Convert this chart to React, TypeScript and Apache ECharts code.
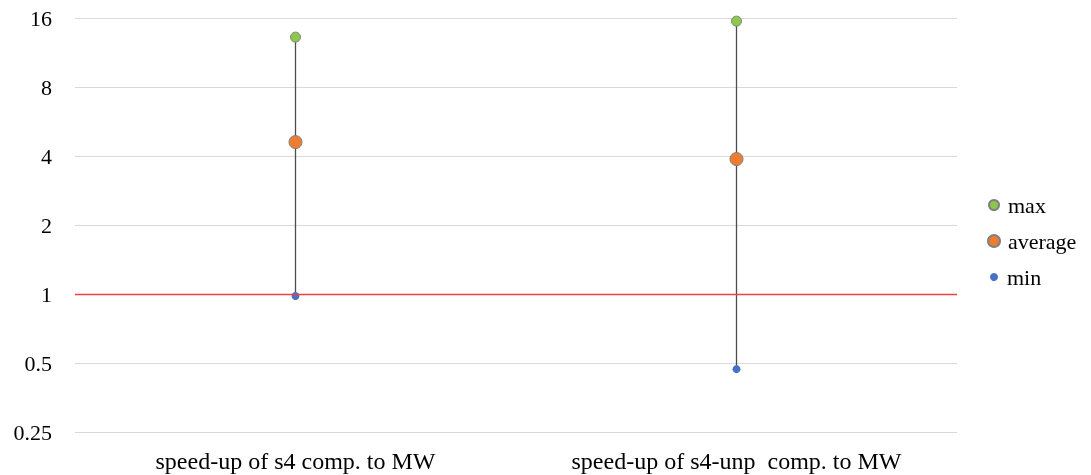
import React, { useEffect, useRef } from "react";
import * as echarts from "echarts";

const categories = ["speed-up of s4 comp. to MW", "speed-up of s4-unp  comp. to MW"];
const maxValues = [13.2, 15.5];
const avgValues = [4.6, 3.88];
const minValues = [0.98, 0.47];
const yTicks = [0.25, 0.5, 1, 2, 4, 8, 16];
const referenceValue = 1;

const FONT = "'Liberation Serif', 'Times New Roman', serif";

export default function App() {
  const ref = useRef<HTMLDivElement>(null);
  useEffect(() => {
    if (!ref.current) return;
    const chart = echarts.init(ref.current, undefined, { renderer: "svg" });
    const rangeData = categories.map((_, i) => [i, minValues[i], maxValues[i]]);
    const legendBase = {
      orient: "vertical" as const,
      icon: "circle",
      padding: 0,
      selectedMode: false,
    };
    const legendText = (pad: number) => ({
      fontFamily: FONT,
      fontSize: 22,
      color: "#000",
      lineHeight: 24,
      padding: [0, 0, 0, pad],
    });
    chart.setOption({
      animation: false,
      grid: { left: 75, right: 134, top: 18, bottom: 43 },
      legend: [
        { ...legendBase, left: 988, top: 193, itemWidth: 10, itemHeight: 10, textStyle: legendText(4), data: ["max"] },
        { ...legendBase, left: 987, top: 229, itemWidth: 12, itemHeight: 12, textStyle: legendText(3), data: ["average"] },
        { ...legendBase, left: 990, top: 265, itemWidth: 8, itemHeight: 8, textStyle: legendText(4), data: ["min"] },
      ],
      xAxis: {
        type: "category",
        data: categories,
        boundaryGap: true,
        axisLine: { show: false },
        axisTick: { show: false },
        axisLabel: { fontFamily: FONT, fontSize: 24, color: "#000", margin: 17 },
      },
      yAxis: {
        type: "log",
        logBase: 2,
        min: yTicks[0],
        max: yTicks[yTicks.length - 1],
        axisLine: { show: false },
        axisTick: { show: false },
        splitLine: { lineStyle: { color: "#d9d9d9", width: 1 } },
        axisLabel: {
          fontFamily: FONT,
          fontSize: 22,
          color: "#000",
          margin: 23,
          formatter: (v: number) => String(Math.round(v * 100) / 100),
        },
      },
      series: [
        {
          type: "custom",
          name: "range",
          data: rangeData,
          z: 2,
          renderItem: (params: any, api: any) => {
            const idx = api.value(0);
            const p1 = api.coord([idx, api.value(1)]);
            const p2 = api.coord([idx, api.value(2)]);
            return {
              type: "line",
              shape: { x1: p1[0], y1: p1[1], x2: p2[0], y2: p2[1] },
              style: { stroke: "#4d4d4d", lineWidth: 1.3 },
            };
          },
          markLine: {
            silent: true,
            symbol: "none",
            label: { show: false },
            lineStyle: { color: "#f04040", width: 1.3, type: "solid" },
            data: [{ yAxis: referenceValue }],
          },
        },
        {
          type: "scatter",
          name: "max",
          data: maxValues,
          symbolSize: 10,
          z: 3,
          itemStyle: { color: "#8cc84b", borderColor: "#808080", borderWidth: 1, opacity: 1 },
        },
        {
          type: "scatter",
          name: "average",
          data: avgValues,
          symbolSize: 13,
          z: 3,
          itemStyle: { color: "#ed7d31", borderColor: "#808080", borderWidth: 1, opacity: 1 },
        },
        {
          type: "scatter",
          name: "min",
          data: minValues,
          symbolSize: 8,
          z: 3,
          itemStyle: { color: "#4472c4", opacity: 1 },
        },
      ],
    });
    return () => chart.dispose();
  }, []);
  return <div ref={ref} style={{ position: "fixed", left: 0, top: 0, width: 1091, height: 475 }} />;
}
